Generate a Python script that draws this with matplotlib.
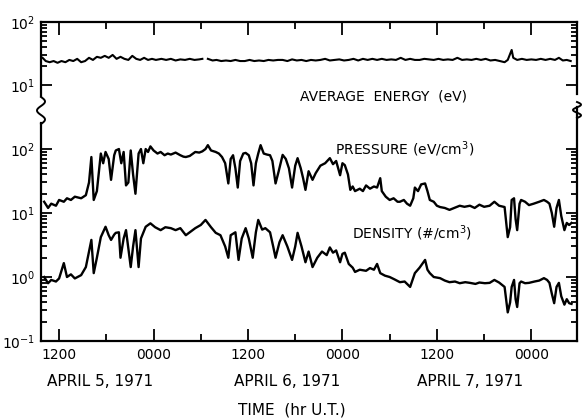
import numpy as np
import matplotlib
matplotlib.use("Agg")
import matplotlib.pyplot as plt
from matplotlib.lines import Line2D
from matplotlib.ticker import FixedLocator, NullFormatter, LogFormatterSciNotation

# ---------------- data (time in hours from 0000 UT April 5, 1971) ----------------
energy_t = [9.9, 10.3, 10.8, 11.3, 11.8, 12.3, 12.8, 13.3, 13.8, 14.3, 14.8, 15.3, 15.8, 16.3, 16.8,
            17.3, 17.8, 18.3, 18.8, 19.3, 19.8, 20.3, 20.8, 21.3, 21.8, 22.3, 22.8, 23.3, 23.8, 24.3,
            25.0, 25.6, 26.2, 26.8, 27.4, 28.0, 28.6, 29.2, 29.8, 30.2, 30.5, 30.9, 31.5, 32.0, 32.6,
            33.2, 33.8, 34.4, 35.0, 35.6, 36.2, 36.8, 37.4, 38.0, 38.6, 39.2, 39.8, 40.4, 41.0, 41.6,
            42.2, 42.8, 43.4, 44.0, 44.6, 45.2, 45.8, 46.4, 47.0, 47.6, 48.2, 48.8, 49.4, 50.0, 50.6,
            51.2, 51.8, 52.4, 53.0, 53.6, 54.2, 54.8, 55.4, 56.0, 56.6, 57.2, 57.8, 58.4, 59.0, 59.6,
            60.2, 60.8, 61.4, 62.0, 62.6, 63.2, 63.8, 64.4, 65.0, 65.6, 66.2, 66.8, 67.4, 68.0, 68.6,
            69.0, 69.5, 69.7, 70.2, 70.8, 71.4, 72.0, 72.6, 73.2, 73.8, 74.4, 75.0, 75.5, 76.0, 76.5, 77.0]
energy_v = [27, 24, 23, 24, 22.5, 24, 23, 25, 24, 26, 23, 24, 27, 25, 28,
            27, 29, 27, 30, 26, 28, 26, 25, 29, 26, 25, 27, 25, 26, 25,
            26, 25, 26, 24.5, 25.5, 25, 26, 25, 25.5, 26, np.nan, 26, 24.5, 25, 24,
            24.5, 24, 25, 24, 24, 25, 24, 24.5, 24, 25, 24.5, 25, 25, 24, 25.5,
            24.5, 25, 24, 25, 24.5, 25, 26, 24.5, 25, 25.5, 24.5, 25, 26, 24.5, 26,
            25, 26, 25, 26, 25, 25.5, 25, 27, 25, 26, 25, 25, 26, 25.5, 25,
            26, 25, 25.5, 25, 27, 25, 25.5, 25, 26, 25, 26, 24.5, 25, 24, 23,
            25, 36, 27, 25, 26, 25, 25.5, 25, 26, 25, 26, 25, 27, 24.5, 25, 24]

pressure_t = [10.1, 10.6, 11.0, 11.6, 12.0, 12.6, 13.0, 13.5, 14.0, 14.8, 15.4, 15.8, 16.1, 16.4, 16.8,
              17.3, 17.6, 17.9, 18.3, 18.6, 19.0, 19.2, 19.6, 19.9, 20.2, 20.5, 20.8, 21.1, 21.4, 21.7,
              22.1, 22.4, 22.7, 23.0, 23.3, 23.6, 24.0, 24.5, 24.9, 25.4, 25.8, 26.2, 26.8, 27.4, 27.8,
              28.1, 28.6, 29.3, 29.8, 30.2, 30.6, 30.9, 31.3, 31.9, 32.3, 32.7, 33.1, 33.5, 33.8, 34.1,
              34.4, 34.7, 35.0, 35.4, 35.7, 36.1, 36.4, 36.7, 37.0, 37.3, 37.6, 38.0, 38.4, 38.8, 39.1,
              39.5, 39.9, 40.4, 40.8, 41.2, 41.6, 42.0, 42.3, 42.7, 43.0, 43.3, 43.7, 44.2, 44.6, 45.2,
              45.8, 46.4, 46.8, 47.2, 47.7, 48.0, 48.3, 48.7, 49.0, 49.3, 49.6, 50.2, 50.6, 51.0, 51.5,
              52.0, 52.4, 52.8, 53.0, 53.5, 54.0, 54.5, 55.0, 55.3, 55.8, 56.2, 56.6, 57.0, 57.2, 57.6,
              58.0, 58.5, 58.8, 59.1, 59.6, 60.0, 60.4, 61.0, 61.6, 62.2, 62.9, 63.5, 64.2, 64.8, 65.4,
              66.0, 66.7, 67.3, 67.9, 68.6, 69.0, 69.3, 69.5, 69.8, 70.0, 70.2, 70.5, 70.7, 71.2, 71.7,
              72.3, 73.0, 73.6, 74.0, 74.3, 74.6, 74.9, 75.2, 75.5, 75.8, 76.2, 76.5, 76.8, 77.1]
pressure_v = [15, 12, 14, 13, 16, 15, 17, 16, 18, 17, 19, 30, 75, 16, 22,
              85, 60, 90, 70, 33, 80, 95, 100, 60, 90, 27, 30, 95, 40, 20,
              85, 100, 60, 100, 90, 110, 95, 85, 90, 80, 85, 82, 88, 80, 76,
              75, 78, 90, 88, 92, 100, 115, 95, 90, 85, 75, 60, 29, 70, 80,
              50, 25, 65, 85, 87, 80, 60, 27, 60, 85, 115, 85, 82, 80, 65,
              29, 45, 81, 70, 50, 25, 55, 72, 50, 35, 23, 45, 33, 42, 55,
              60, 72, 58, 65, 39, 60, 56, 40, 23, 26, 22, 24, 22, 27, 24,
              26, 25, 35, 22, 18, 16, 17, 15, 15, 16, 14, 13, 17, 25, 22,
              28, 29, 22, 16, 15, 13, 12.4, 12, 11.2, 12, 13, 12.5, 13, 12, 13.5,
              12.5, 13, 15, 13, 12.4, 4.2, 6, 16, 17, 8, 5.4, 14, 16, 15, 13.3,
              14, 15, 16, 15, 14, 10, 6.1, 12, 16, 9, 5.4, 7, 6.5, 7]

density_t = [10.1, 10.6, 11.0, 11.6, 12.0, 12.6, 13.0, 13.5, 14.0, 14.8, 15.4, 15.8, 16.1, 16.4, 16.8,
             17.3, 17.9, 18.3, 18.6, 19.0, 19.2, 19.6, 19.8, 20.2, 20.5, 21.1, 21.4, 21.7, 22.1, 22.4,
             23.0, 23.6, 24.2, 24.9, 25.5, 26.2, 26.8, 27.4, 28.1, 28.6, 29.3, 30.0, 30.6, 31.3, 31.9,
             32.5, 33.1, 33.5, 33.8, 34.4, 34.8, 35.2, 35.7, 36.1, 36.6, 37.0, 37.3, 37.8, 38.2, 38.8,
             39.2, 39.5, 40.0, 40.4, 41.0, 41.6, 42.0, 42.3, 42.8, 43.3, 43.7, 44.2, 44.8, 45.4, 46.0,
             46.4, 46.8, 47.2, 47.7, 48.0, 48.3, 48.8, 49.3, 49.6, 50.2, 51.0, 51.5, 52.0, 52.4, 52.8,
             53.4, 54.0, 54.6, 55.3, 55.9, 56.6, 57.2, 57.8, 58.5, 58.8, 59.1, 59.6, 60.4, 61.0, 61.6,
             62.3, 62.9, 63.6, 64.2, 64.9, 65.4, 66.1, 66.7, 67.3, 67.9, 68.6, 69.0, 69.3, 69.5, 69.8,
             70.0, 70.2, 70.5, 70.7, 71.2, 71.7, 72.4, 73.0, 73.6, 74.0, 74.3, 74.6, 74.9, 75.2, 75.5,
             75.8, 76.2, 76.5, 76.8, 77.1]
density_v = [1.0, 0.8, 0.9, 0.85, 0.95, 1.65, 1.0, 1.1, 0.95, 1.07, 1.43, 2.5, 3.8, 1.15, 2.0,
             4.2, 6.1, 4.5, 3.8, 4.6, 4.9, 5.0, 2.0, 4.0, 5.4, 1.43, 3.0, 5.4, 1.43, 4.0,
             6.1, 6.9, 6.0, 5.4, 6.0, 5.8, 5.4, 5.8, 4.5, 5.0, 5.8, 6.5, 7.8, 6.0, 4.9,
             4.5, 3.0, 2.0, 4.5, 5.0, 1.85, 4.0, 5.8, 4.0, 2.0, 5.0, 7.8, 5.5, 5.8, 5.0,
             3.0, 2.0, 3.5, 4.5, 3.0, 1.85, 3.0, 4.9, 3.0, 1.7, 2.5, 1.43, 2.0, 2.5, 2.2,
             2.9, 2.4, 2.6, 1.7, 2.3, 2.4, 1.6, 1.4, 1.2, 1.3, 1.25, 1.38, 1.3, 1.6, 1.15,
             1.05, 1.0, 0.92, 0.83, 0.85, 0.7, 1.15, 1.4, 1.85, 1.3, 1.15, 1.0, 0.96, 0.88, 0.83,
             0.85, 0.8, 0.83, 0.81, 0.78, 0.82, 0.8, 0.81, 0.9, 0.82, 0.7, 0.28, 0.4, 0.7, 0.9,
             0.45, 0.34, 0.8, 0.85, 0.8, 0.81, 0.85, 0.88, 0.96, 0.9, 0.81, 0.55, 0.39, 0.7, 0.81,
             0.5, 0.37, 0.45, 0.39, 0.38]

xtick_pos = [12, 24, 36, 48, 60, 72]
xtick_labels = ["1200", "0000", "1200", "0000", "1200", "0000"]
xminor_pos = [18, 30, 42, 54, 66]
date_labels = ["APRIL 5, 1971", "APRIL 6, 1971", "APRIL 7, 1971"]

# ---------------- figure ----------------
W, H = 582, 420
fig = plt.figure(figsize=(W / 100, H / 100), dpi=100)
fig.patch.set_facecolor("white")

def fx(px):
    return px / W

def fy(py):
    return 1 - py / H

L, R, T, B, BRK = 41, 577, 22, 341, 110
ax_top = fig.add_axes([fx(L), fy(BRK), fx(R) - fx(L), fy(T) - fy(BRK)])
ax_bot = fig.add_axes([fx(L), fy(B), fx(R) - fx(L), fy(BRK) - fy(B)])

xlim = (9.7, 77.8)
for ax in (ax_top, ax_bot):
    ax.set_yscale("log")
    ax.set_xlim(*xlim)
    for s in ax.spines.values():
        s.set_linewidth(1.6)
    ax.tick_params(axis="both", which="both", direction="in", color="black",
                   labelsize=10, width=1.3)
    ax.tick_params(axis="y", which="major", length=8, left=True, right=True, pad=4)
    ax.tick_params(axis="y", which="minor", length=4, left=True, right=True)
    ax.xaxis.set_major_locator(FixedLocator(xtick_pos))
    ax.xaxis.set_minor_locator(FixedLocator(xminor_pos))

# upper panel (average energy)
ax_top.set_ylim(10 ** 0.603, 100)
ax_top.plot(energy_t, energy_v, color="black", lw=1.5)
ax_top.spines["bottom"].set_visible(False)
ax_top.tick_params(axis="x", which="major", length=9, top=True, bottom=False,
                   labeltop=False, labelbottom=False)
ax_top.tick_params(axis="x", which="minor", length=5, top=True, bottom=False)
ax_top.yaxis.set_major_locator(FixedLocator([10, 100]))
ax_top.yaxis.set_minor_locator(FixedLocator([20, 30, 40, 50, 60, 70, 80, 90]))
ax_top.yaxis.set_major_formatter(LogFormatterSciNotation())
ax_top.yaxis.set_minor_formatter(NullFormatter())
ax_top.spines["left"].set_bounds(6.6, 100)
ax_top.spines["right"].set_bounds(7.2, 100)

# lower panel (pressure and density)
ax_bot.set_ylim(0.1, 10 ** 2.61)
ax_bot.plot(pressure_t, pressure_v, color="black", lw=1.7)
ax_bot.plot(density_t, density_v, color="black", lw=1.7)
ax_bot.spines["top"].set_visible(False)
ax_bot.tick_params(axis="x", which="major", length=9, top=False, bottom=True, pad=5)
ax_bot.tick_params(axis="x", which="minor", length=5, top=False, bottom=True)
ax_bot.set_xticklabels(xtick_labels)
ax_bot.yaxis.set_major_locator(FixedLocator([0.1, 1, 10, 100]))
ax_bot.yaxis.set_minor_locator(FixedLocator(
    [0.2, 0.3, 0.4, 0.5, 0.6, 0.7, 0.8, 0.9, 2, 3, 4, 5, 6, 7, 8, 9,
     20, 30, 40, 50, 60, 70, 80, 90]))
ax_bot.yaxis.set_major_formatter(LogFormatterSciNotation())
ax_bot.yaxis.set_minor_formatter(NullFormatter())
ax_bot.spines["left"].set_bounds(0.1, 10 ** 2.41)
ax_bot.spines["right"].set_bounds(0.1, 10 ** 2.65)

# axis-break squiggles (decoration)
def squiggle(xc, y0, y1):
    tt = np.linspace(0, 1, 60)
    xs = xc + 4.0 * np.sin(tt * 2 * np.pi * 1.5)
    ys = y0 + (y1 - y0) * tt
    fig.add_artist(Line2D(fx(xs), fy(ys), color="black", lw=1.4,
                          transform=fig.transFigure))

squiggle(fx(L) * W, 97, 124)
squiggle(fx(R) * W, 102, 118)

# panel labels
fig.text(fx(300), fy(96), "AVERAGE  ENERGY  (eV)", fontsize=10, ha="left", va="center")
fig.text(fx(335), fy(149), "PRESSURE (eV/cm$^3$)", fontsize=10, ha="left", va="center")
fig.text(fx(352), fy(233), "DENSITY (#/cm$^3$)", fontsize=10, ha="left", va="center")

# date labels and axis title
for lab, xp in zip(date_labels, [100, 287, 470]):
    fig.text(fx(xp), fy(382), lab, fontsize=11, ha="center", va="center")
fig.text(fx(292), fy(410), "TIME  (hr U.T.)", fontsize=11, ha="center", va="center")

fig.savefig("out.png", dpi=100, facecolor="white")
